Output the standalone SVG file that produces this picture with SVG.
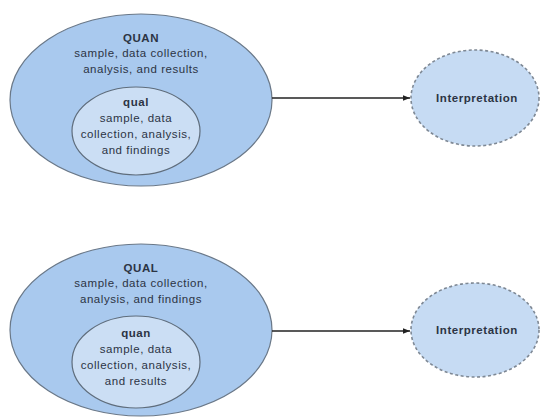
<svg xmlns="http://www.w3.org/2000/svg" width="540" height="418" viewBox="0 0 540 418">
<defs>
<style>
.outer{fill:#a9c9ee;stroke:#6a7888;stroke-width:1.2}
.inner{fill:#cbdef4;stroke:#5f6d7c;stroke-width:1.2}
.interp{fill:#c6dbf3;stroke:#7e8894;stroke-width:1.6;stroke-dasharray:3 2.5}
.conn{stroke:#222;stroke-width:1.4;fill:none}
text{font-family:"Liberation Sans",Arial,sans-serif;font-size:11.5px;letter-spacing:0.55px;fill:#2c3444;text-anchor:middle}
.b{font-weight:bold}
</style>
<marker id="ah" viewBox="0 0 10 10" refX="10" refY="5" markerWidth="7" markerHeight="7" orient="auto" markerUnits="userSpaceOnUse">
<path d="M0,1 L10,5 L0,9 z" fill="#222"/>
</marker>
</defs>
<rect width="540" height="418" fill="#fff"/>
<g id="quan-outer">
<ellipse class="outer" cx="141" cy="100" rx="131" ry="86"/>
<text class="b" x="141" y="42">QUAN</text>
<text x="141" y="57">sample, data collection,</text>
<text x="141" y="73">analysis, and results</text>
</g>
<g id="qual-inner">
<ellipse class="inner" cx="136" cy="131" rx="64" ry="44"/>
<text class="b" x="136" y="106">qual</text>
<text x="136" y="122">sample, data</text>
<text x="136" y="138">collection, analysis,</text>
<text x="136" y="154">and findings</text>
</g>
<g id="interp-top">
<ellipse class="interp" cx="475" cy="98" rx="64" ry="48"/>
<text class="b" x="477" y="102">Interpretation</text>
</g>
<g id="qual-outer">
<ellipse class="outer" cx="141" cy="330" rx="131" ry="86"/>
<text class="b" x="141" y="272">QUAL</text>
<text x="141" y="287">sample, data collection,</text>
<text x="141" y="303">analysis, and findings</text>
</g>
<g id="quan-inner">
<ellipse class="inner" cx="136" cy="362" rx="64" ry="46"/>
<text class="b" x="136" y="337">quan</text>
<text x="136" y="353">sample, data</text>
<text x="136" y="369">collection, analysis,</text>
<text x="136" y="385">and results</text>
</g>
<g id="interp-bottom">
<ellipse class="interp" cx="475" cy="330" rx="64" ry="47"/>
<text class="b" x="477" y="334">Interpretation</text>
</g>
<g id="connectors">
<line class="conn" x1="272" y1="98" x2="410" y2="98" marker-end="url(#ah)"/>
<line class="conn" x1="272" y1="331" x2="410" y2="331" marker-end="url(#ah)"/>
</g>
</svg>
